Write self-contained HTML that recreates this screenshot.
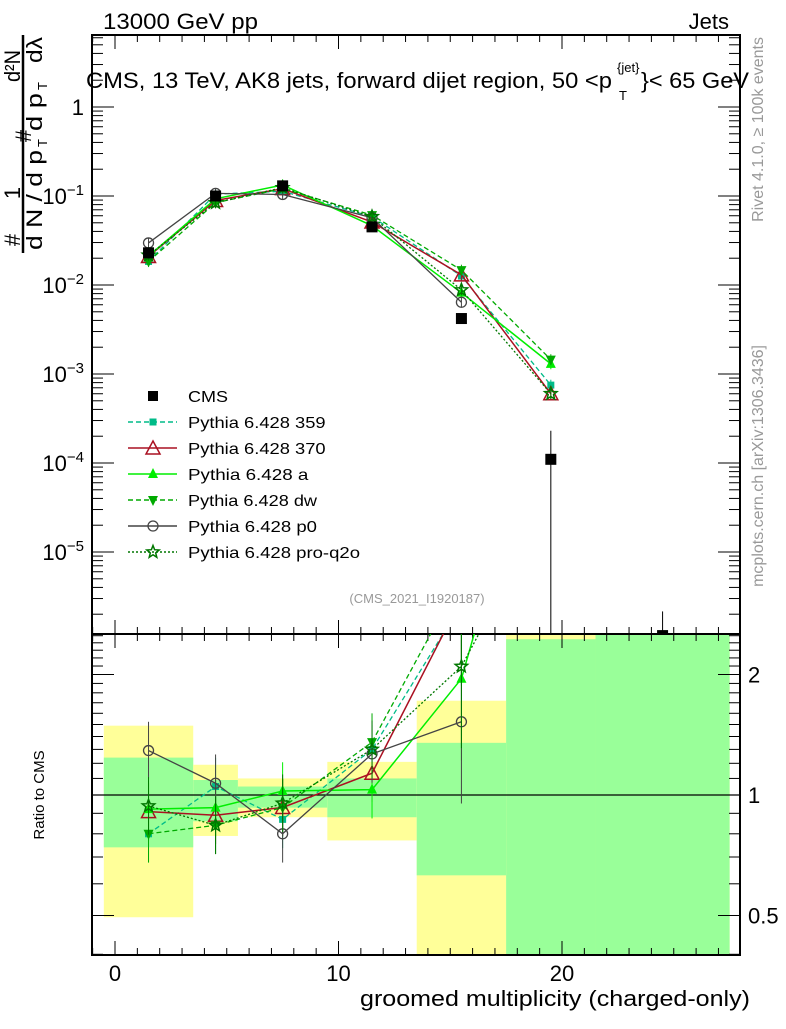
<!DOCTYPE html>
<html><head><meta charset="utf-8"><style>
body{margin:0;background:#fff;width:786px;height:1024px;overflow:hidden}
svg{font-family:"Liberation Sans",sans-serif}
</style></head><body>
<svg id="c" width="786" height="1024" viewBox="0 0 786 1024" xmlns="http://www.w3.org/2000/svg"></svg>
<script>
const xCenters=[1.5,4.5,7.5,11.5,15.5,19.5,24.5];
const cms=[0.023,0.1,0.13,0.045,0.0042,1.1e-4,1.15e-6];
const cmsErr=[0.003,0.01,0.01,0.005,0.0005,1.2e-4,1e-6];
const s359=[0.0184,0.105,0.113,0.0585,0.0126,7.5e-4];
const s370=[0.0209,0.089,0.121,0.051,0.013,6e-4];
const sA=[0.0212,0.093,0.133,0.0464,0.0082,1.3e-3];
const sDW=[0.0184,0.084,0.121,0.061,0.0147,1.45e-3];
const sP0=[0.0297,0.107,0.104,0.057,0.0064];
const sPro=[0.0216,0.084,0.124,0.0585,0.0088,6e-4];
const binEdges=[-0.5,3.5,5.5,9.5,13.5,17.5,21.5,27.5];
const bandYellowLo=[0.495,0.79,0.88,0.77,0.3,0.3,0.3];
const bandYellowHi=[1.49,1.19,1.10,1.21,1.72,2.6,2.6];
const bandGreenLo=[0.74,0.86,0.93,0.88,0.63,0.3,0.3];
const bandGreenHi=[1.24,1.09,1.05,1.10,1.35,2.45,2.6];
const xTicks=[0,10,20];
const yTicksMain=[0,-1,-2,-3,-4,-5];
const ratioTicks=[0.5,1,2];

const svg=document.getElementById('c');
const NS='http://www.w3.org/2000/svg';
function el(t,a,p){const e=document.createElementNS(NS,t);for(const k in a)e.setAttribute(k,a[k]);(p||svg).appendChild(e);return e;}
const L=92,R=740,T=35,M=634,B=955;
const X=v=>115+(v)*22.35;
const Y=v=>107-Math.log10(v)*89;
const YR=v=>795-Math.log2(v)*120.5;

const bg=el('g',{});

for(let i=0;i<binEdges.length-1;i++){
 const x0=X(binEdges[i]),x1=X(binEdges[i+1]);
 const clip=v=>Math.max(M,Math.min(B,v));
 let y0=clip(YR(bandYellowHi[i])),y1=clip(YR(bandYellowLo[i]));
 const r=el('rect',{x:x0,y:y0,width:x1-x0,height:y1-y0,fill:'#ffff99'},bg);
 
 y0=clip(YR(bandGreenHi[i]));y1=clip(YR(bandGreenLo[i]));
 const g=el('rect',{x:x0,y:y0,width:x1-x0,height:y1-y0,fill:'#99ff99'},bg);
 
}
el('line',{x1:L,x2:R,y1:YR(1),y2:YR(1),stroke:'#000','stroke-width':1.2});

el('rect',{x:L,y:T,width:R-L,height:M-T,fill:'none',stroke:'#000','stroke-width':2});
el('rect',{x:L,y:M,width:R-L,height:B-M,fill:'none',stroke:'#000','stroke-width':2});

for(let v=-1;v<=27;v++){
 const x=X(v);const big=v%10===0;const len=big?14:7;
 for(const [yt,yb] of [[T,M],[M,B]]){
  el('line',{x1:x,x2:x,y1:yb,y2:yb-len,stroke:'#000'});
  el('line',{x1:x,x2:x,y1:yt,y2:yt+len,stroke:'#000'});
 }
}
xTicks.forEach(v=>{const t=el('text',{x:X(v),y:981,'font-size':22,'text-anchor':'middle'});t.textContent=v;});
for(let d=-6;d<=0;d++){for(let m=1;m<10;m++){const v=m*Math.pow(10,d);const y=Y(v);if(y<T||y>M)continue;const len=m===1?22:11;
 el('line',{x1:L,x2:L+len,y1:y,y2:y,stroke:'#000'});el('line',{x1:R,x2:R-len,y1:y,y2:y,stroke:'#000'});}}
yTicksMain.forEach(d=>{const t=el('text',{x:84,y:Y(Math.pow(10,d))+8,'font-size':22,'text-anchor':'end'});
 
 if(d===0)t.textContent='1';else{t.textContent='10';const s=el('tspan',{dy:-9,'font-size':15},t);s.textContent='\u2212'+(-d);}});
[0.4,0.5,0.6,0.7,0.8,0.9,1,1.1,1.2,1.3,1.4,1.5,1.6,1.7,1.8,1.9,2,2.1,2.2,2.3,2.4,2.5].forEach(v=>{const y=YR(v);if(y<M||y>B)return;const len=(v===0.5||v===1||v===2)?22:11;
 el('line',{x1:L,x2:L+len,y1:y,y2:y,stroke:'#000'});el('line',{x1:R,x2:R-len,y1:y,y2:y,stroke:'#000'});});
ratioTicks.forEach(v=>{const t=el('text',{x:748,y:YR(v)+8,'font-size':22});t.textContent=v;});

const series=[
 {n:'359',d:s359,c:'#00bb88',dash:'5,3',m:'sq',w:1.3},
 {n:'370',d:s370,c:'#aa1122',dash:'',m:'tri-open',w:1.5},
 {n:'a',d:sA,c:'#00ee00',dash:'',m:'tri',w:1.5},
 {n:'dw',d:sDW,c:'#00aa00',dash:'5,3',m:'tri-down',w:1.3},
 {n:'p0',d:sP0,c:'#444444',dash:'',m:'circ',w:1.3},
 {n:'pro-q2o',d:sPro,c:'#007700',dash:'2,2',m:'star',w:1.3}
];
function marker(m,x,y,c,g){let e;
 if(m==='sq')e=el('rect',{x:x-3.5,y:y-3.5,width:7,height:7,fill:c},g);
 else if(m==='sqbig')e=el('rect',{x:x-5.5,y:y-5.5,width:11,height:11,fill:c},g);
 else if(m==='tri-open')e=el('polygon',{points:`${x},${y-7} ${x-7},${y+6} ${x+7},${y+6}`,fill:'none',stroke:c,'stroke-width':1.5},g);
 else if(m==='tri')e=el('polygon',{points:`${x},${y-6} ${x-5},${y+4} ${x+5},${y+4}`,fill:c},g);
 else if(m==='tri-down')e=el('polygon',{points:`${x},${y+6} ${x-5},${y-4} ${x+5},${y-4}`,fill:c},g);
 else if(m==='circ')e=el('circle',{cx:x,cy:y,r:5,fill:'none',stroke:c,'stroke-width':1.3},g);
 else if(m==='star'){let p=[];for(let i=0;i<10;i++){const a=-Math.PI/2+i*Math.PI/5,r=i%2?2.8:6.5;p.push((x+r*Math.cos(a)).toFixed(1)+','+(y+r*Math.sin(a)).toFixed(1));}
  e=el('polygon',{points:p.join(' '),fill:'none',stroke:c,'stroke-width':1.5},g);}
 }

const defs=el('defs',{});
const cp1=el('clipPath',{id:'cu'},defs);el('rect',{x:L,y:T,width:R-L,height:M-T},cp1);
const cp2=el('clipPath',{id:'cl'},defs);el('rect',{x:L,y:M,width:R-L,height:B-M},cp2);

series.forEach(s=>{
 const gu=el('g',{'clip-path':'url(#cu)'});
 
 const pts=s.d.map((v,i)=>[X(xCenters[i]),Y(v)]);
 el('polyline',{points:pts.map(p=>p.join(',')).join(' '),fill:'none',stroke:s.c,'stroke-width':s.w,'stroke-dasharray':s.dash},gu);
 s.d.forEach((v,i)=>{const x=X(xCenters[i]);el('line',{x1:x,x2:x,y1:Y(v*1.15),y2:Y(v/1.15),stroke:s.c},gu);marker(s.m,x,Y(v),s.c,gu);});
 const gl=el('g',{'clip-path':'url(#cl)'});
 
 const rp=s.d.map((v,i)=>[X(xCenters[i]),YR(v/cms[i])]);
 el('polyline',{points:rp.map(p=>p.join(',')).join(' '),fill:'none',stroke:s.c,'stroke-width':s.w,'stroke-dasharray':s.dash},gl);
 s.d.forEach((v,i)=>{const r=v/cms[i];const x=X(xCenters[i]);const e=i===4?1.6:1.18;el('line',{x1:x,x2:x,y1:YR(r*e),y2:YR(r/e),stroke:s.c},gl);marker(s.m,x,YR(r),s.c,gl);});
});
const gc=el('g',{'clip-path':'url(#cu)'});

cms.forEach((v,i)=>{const x=X(xCenters[i]);const lo=v-cmsErr[i];el('line',{x1:x,x2:x,y1:Y(v+cmsErr[i]),y2:lo<=0?M:Math.min(M,Y(lo)),stroke:'#000'},gc);marker('sqbig',x,Y(v),'#000',gc);});

const leg=[{n:'CMS',c:'#000',m:'sqbig',dash:null}].concat(series.map(s=>({n:'Pythia 6.428 '+s.n,c:s.c,m:s.m,dash:s.dash})));
leg.forEach((l,i)=>{const y=396+i*26;const g=el('g',{});
 
 if(l.dash!==null)el('line',{x1:128,x2:177,y1:y,y2:y,stroke:l.c,'stroke-width':1.5,'stroke-dasharray':l.dash},g);
 if(l.m==='sqbig')el('rect',{x:148,y:y-5,width:10,height:10,fill:'#000'},g);else marker(l.m,153,y,l.c,g);
 const t=el('text',{x:188,y:y+6,'font-size':16,textLength:l.n==='CMS'?40:(l.n.length*8.6),lengthAdjust:'spacingAndGlyphs'},g);t.textContent=l.n;});

function txt(s,a,name){const t=el('text',a);t.textContent=s;return t;}
txt('13000 GeV pp',{x:103,y:29,'font-size':22,textLength:155,lengthAdjust:'spacingAndGlyphs'},'energy-label');
txt('Jets',{x:729,y:29,'font-size':22,'text-anchor':'end'},'process-label');
txt('CMS, 13 TeV, AK8 jets, forward dijet region, 50 <p',{x:86,y:88,'font-size':22,textLength:526,lengthAdjust:'spacingAndGlyphs'},'plot-title');
txt('{jet}',{x:617,y:72,'font-size':13},'title-sup');txt('T',{x:619,y:100,'font-size':13},'title-sub');
txt('}< 65 GeV',{x:641,y:88,'font-size':22,textLength:108,lengthAdjust:'spacingAndGlyphs'},'title-end');
txt('(CMS_2021_I1920187)',{x:417,y:603,'font-size':13,fill:'#999','text-anchor':'middle'},'analysis-id');
txt('groomed multiplicity (charged-only)',{x:360,y:1006,'font-size':22,textLength:390,lengthAdjust:'spacingAndGlyphs'},'x-axis-title');
txt('Ratio to CMS',{x:0,y:0,'font-size':15,'text-anchor':'middle',transform:'translate(44,795) rotate(-90)'},'ratio-axis-title');
txt('Rivet 4.1.0, \u2265 100k events',{x:0,y:0,'font-size':16,fill:'#999','text-anchor':'end',transform:'translate(763,37) rotate(-90)'},'rivet-label');
txt('mcplots.cern.ch [arXiv:1306.3436]',{x:0,y:0,'font-size':16,fill:'#999','text-anchor':'end',transform:'translate(763,345) rotate(-90)'},'mcplots-label');

const ya=el('g',{});
function rt(s,x,y,fs,len){const a={x:0,y:0,'font-size':fs,'text-anchor':'middle',transform:`translate(${x},${y}) rotate(-90)`};if(len){a.textLength=len;a.lengthAdjust='spacingAndGlyphs';}const t=el('text',a,ya);t.textContent=s;return t;}
rt('#',20,240,22);
rt('1',20,193,22);
rt('#',31,136,22);
rt('d\u00b2N',20,66,22,32);
el('line',{x1:23,x2:23,y1:35,y2:253,stroke:'#000','stroke-width':2.5},ya);
rt('d N / d p',42,200,22,100);
rt('T',47,143,13);
rt('d p',42,112,22,38);
rt('T',47,86,13);
rt('d\u03bb',42,50,22,26);
</script>
</body></html>
